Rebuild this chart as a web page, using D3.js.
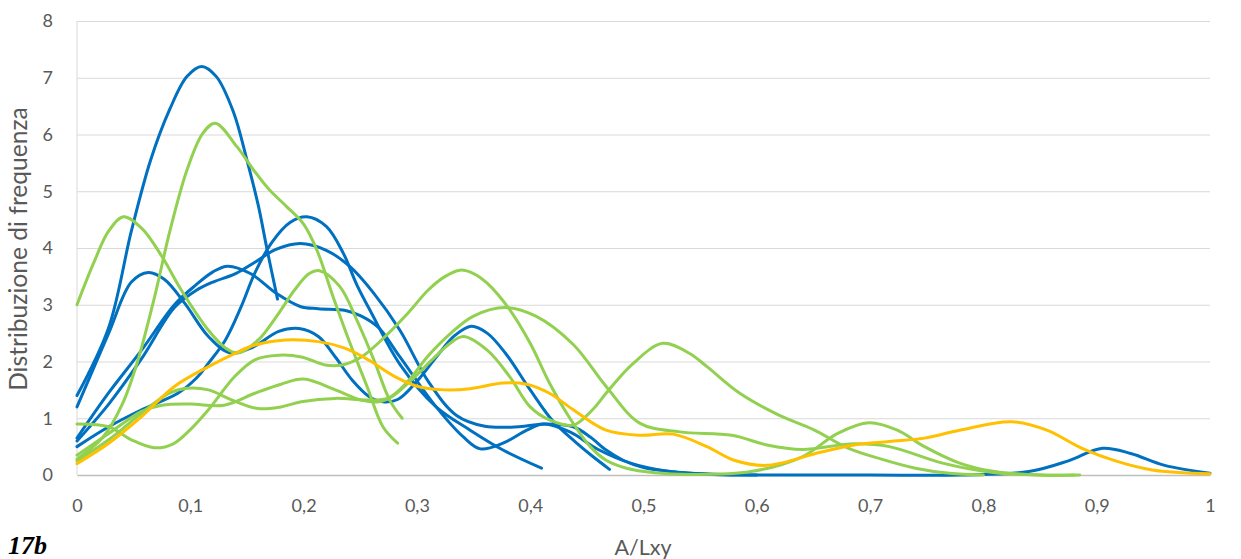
<!DOCTYPE html>
<html>
<head>
<meta charset="utf-8">
<script src="https://cdn.jsdelivr.net/npm/d3@7"></script>
<style>
  body { margin: 0; background: #fff; }
  svg { display: block; }
</style>
</head>
<body>
<div id="chart"></div>
<script>
// tick values and labels
const xTickValues = [0, 0.1, 0.2, 0.3, 0.4, 0.5, 0.6, 0.7, 0.8, 0.9, 1];
const xTickLabels = ["0", "0,1", "0,2", "0,3", "0,4", "0,5", "0,6", "0,7", "0,8", "0,9", "1"];
const yTickValues = [0, 1, 2, 3, 4, 5, 6, 7, 8];

// blue series [A/Lxy, frequency]
const blue1 = [[0,1.4],[0.028,2.6],[0.048,4.3],[0.065,5.55],[0.082,6.45],[0.097,7.02],[0.11,7.2],[0.123,7.02],[0.138,6.4],[0.15,5.55],[0.16,4.75],[0.168,3.95],[0.177,3.1]];
const blue2 = [[0,1.2],[0.028,2.5],[0.048,3.4],[0.063,3.57],[0.077,3.45],[0.095,3.03],[0.116,2.44],[0.135,2.15],[0.155,2.25],[0.178,2.53],[0.196,2.58],[0.213,2.44],[0.228,2.08],[0.243,1.67],[0.258,1.38],[0.27,1.29],[0.283,1.33],[0.3,1.65],[0.318,2.1],[0.333,2.45],[0.348,2.62],[0.362,2.5],[0.378,2.15],[0.4,1.5],[0.42,0.95],[0.44,0.58],[0.455,0.33],[0.47,0.1]];
const blue3 = [[0,0.5],[0.028,0.85],[0.057,1.15],[0.089,1.44],[0.105,1.7],[0.116,1.97],[0.131,2.38],[0.145,2.97],[0.157,3.56],[0.172,4.1],[0.188,4.45],[0.203,4.55],[0.22,4.38],[0.235,3.91],[0.247,3.35],[0.26,2.85],[0.285,1.95],[0.317,1.2],[0.347,0.79],[0.376,0.44],[0.41,0.12]];
const blue4 = [[0,0.65],[0.028,1.45],[0.057,2.2],[0.086,3.0],[0.105,3.35],[0.12,3.58],[0.133,3.68],[0.153,3.55],[0.176,3.2],[0.197,2.97],[0.213,2.93],[0.237,2.9],[0.251,2.8],[0.266,2.6],[0.285,2.08],[0.317,1.2],[0.341,0.67],[0.356,0.46],[0.376,0.56],[0.397,0.79],[0.412,0.9],[0.435,0.76],[0.46,0.45],[0.49,0.2],[0.52,0.07],[0.56,0.01],[0.6,0]];
const blue5 = [[0,0.6],[0.028,1.25],[0.057,2.05],[0.086,2.95],[0.105,3.25],[0.12,3.4],[0.14,3.55],[0.157,3.75],[0.175,3.97],[0.197,4.08],[0.22,3.96],[0.241,3.67],[0.262,3.2],[0.285,2.55],[0.31,1.65],[0.335,1.05],[0.36,0.86],[0.39,0.85],[0.414,0.9],[0.438,0.85],[0.453,0.67],[0.467,0.44],[0.482,0.26],[0.5,0.13],[0.53,0.05],[0.57,0.01],[0.62,0],[0.7,0],[0.78,0],[0.84,0.06],[0.875,0.25],[0.905,0.47],[0.93,0.38],[0.96,0.17],[1.0,0.03]];

// green series
const green1 = [[0,3.0],[0.015,3.75],[0.028,4.3],[0.041,4.55],[0.057,4.35],[0.075,3.85],[0.092,3.26],[0.116,2.55],[0.131,2.24],[0.142,2.15],[0.16,2.38],[0.178,2.85],[0.192,3.26],[0.205,3.55],[0.214,3.6],[0.232,3.32],[0.247,2.73],[0.262,2.03],[0.276,1.32],[0.287,1.0]];
const green2 = [[0,0.28],[0.023,0.67],[0.04,1.25],[0.053,1.97],[0.068,3.1],[0.082,4.3],[0.097,5.37],[0.111,6.02],[0.122,6.2],[0.141,5.79],[0.156,5.37],[0.17,5.02],[0.185,4.73],[0.2,4.42],[0.212,3.95],[0.226,3.14],[0.241,2.32],[0.256,1.56],[0.27,0.85],[0.283,0.56]];
const green3 = [[0,0.9],[0.028,0.85],[0.048,0.62],[0.068,0.48],[0.085,0.55],[0.1,0.8],[0.116,1.15],[0.139,1.73],[0.157,2.03],[0.178,2.11],[0.198,2.08],[0.219,1.94],[0.234,1.94],[0.251,2.08],[0.272,2.44],[0.292,2.85],[0.31,3.26],[0.325,3.5],[0.338,3.61],[0.35,3.55],[0.362,3.38],[0.382,2.91],[0.4,2.32],[0.417,1.62],[0.435,1.0],[0.453,0.5],[0.467,0.26],[0.485,0.12],[0.51,0.04],[0.54,0.01],[0.595,0.06],[0.64,0.32],[0.671,0.73],[0.699,0.92],[0.724,0.79],[0.748,0.5],[0.779,0.21],[0.81,0.06],[0.85,0],[0.88,0]];
const green4 = [[0,0.25],[0.028,0.62],[0.057,1.09],[0.081,1.44],[0.097,1.53],[0.116,1.5],[0.137,1.32],[0.16,1.17],[0.18,1.2],[0.198,1.29],[0.228,1.35],[0.257,1.32],[0.275,1.36],[0.292,1.65],[0.31,2.1],[0.33,2.5],[0.35,2.8],[0.378,2.95],[0.405,2.8],[0.438,2.3],[0.467,1.56],[0.497,0.91],[0.532,0.76],[0.578,0.7],[0.609,0.53],[0.64,0.45],[0.686,0.55],[0.717,0.5],[0.764,0.21],[0.81,0.04],[0.85,0],[0.885,0]];
const green5 = [[0,0.35],[0.028,0.73],[0.057,1.12],[0.075,1.23],[0.1,1.25],[0.13,1.23],[0.157,1.44],[0.18,1.6],[0.2,1.69],[0.228,1.5],[0.251,1.32],[0.266,1.29],[0.278,1.38],[0.295,1.67],[0.316,2.08],[0.328,2.3],[0.341,2.44],[0.362,2.2],[0.382,1.73],[0.4,1.2],[0.417,0.97],[0.438,0.88],[0.455,1.15],[0.467,1.44],[0.49,1.95],[0.517,2.32],[0.54,2.15],[0.556,1.91],[0.585,1.44],[0.62,1.05],[0.65,0.8],[0.68,0.48],[0.71,0.28],[0.74,0.12],[0.77,0.03],[0.8,0]];

// orange series
const orange1 = [[0,0.2],[0.028,0.56],[0.057,1.03],[0.086,1.56],[0.116,1.91],[0.139,2.14],[0.157,2.29],[0.184,2.38],[0.213,2.35],[0.237,2.23],[0.257,2.03],[0.281,1.73],[0.301,1.56],[0.325,1.5],[0.347,1.52],[0.376,1.62],[0.397,1.6],[0.417,1.44],[0.438,1.15],[0.467,0.79],[0.497,0.7],[0.526,0.72],[0.556,0.5],[0.58,0.26],[0.609,0.17],[0.656,0.4],[0.686,0.53],[0.717,0.59],[0.748,0.65],[0.779,0.79],[0.825,0.94],[0.856,0.79],[0.887,0.47],[0.918,0.24],[0.949,0.09],[1.0,0.02]];

const BLUE = "#0070C0", GREEN = "#92D050", ORANGE = "#FFC000";
const series = [
  { data: blue1, color: BLUE }, { data: blue2, color: BLUE }, { data: blue3, color: BLUE },
  { data: blue4, color: BLUE }, { data: blue5, color: BLUE },
  { data: green1, color: GREEN }, { data: green2, color: GREEN }, { data: green3, color: GREEN },
  { data: green4, color: GREEN }, { data: green5, color: GREEN },
  { data: orange1, color: ORANGE }
];

const FONT = "Lato, 'Open Sans', sans-serif";

// shrink or grow a text so that it spans about `target` px
function fitText(sel, target) {
  const len = sel.node().getComputedTextLength();
  const size = parseFloat(sel.style("font-size"));
  sel.style("font-size", (size * target / len).toFixed(1) + "px");
}

function drawChart() {
  const width = 1241, height = 559;
  const margin = { top: 21, right: 31, bottom: 84, left: 77 };
  const innerWidth = width - margin.left - margin.right;
  const innerHeight = height - margin.top - margin.bottom;

  const svg = d3.select("#chart").append("svg")
    .attr("width", width)
    .attr("height", height);

  const g = svg.append("g")
    .attr("transform", `translate(${margin.left},${margin.top})`);

  const x = d3.scaleLinear().domain([0, 1]).range([0, innerWidth]);
  const y = d3.scaleLinear().domain([0, 8]).range([innerHeight, 0]);

  // horizontal gridlines
  g.append("g")
    .call(d3.axisLeft(y).tickValues(yTickValues.filter(d => d > 0)).tickSize(-innerWidth).tickFormat(""))
    .call(a => a.select(".domain").remove())
    .selectAll("line")
    .attr("stroke", "#d9d9d9")
    .attr("stroke-width", 1);

  // left axis line
  g.append("line")
    .attr("x1", 0).attr("x2", 0)
    .attr("y1", 0).attr("y2", innerHeight)
    .attr("stroke", "#d9d9d9");

  // y labels
  g.append("g")
    .call(d3.axisLeft(y).tickValues(yTickValues).tickSize(0).tickPadding(24))
    .call(a => a.select(".domain").remove())
    .selectAll("text")
    .style("font-family", FONT)
    .style("font-size", "18px")
    .attr("fill", "#595959");

  // x axis
  const xAxis = g.append("g")
    .attr("transform", `translate(0,${innerHeight})`)
    .call(d3.axisBottom(x).tickValues(xTickValues).tickSize(0).tickPadding(24)
      .tickFormat((d, i) => xTickLabels[i]));
  xAxis.select(".domain").attr("stroke", "#bfbfbf").attr("stroke-width", 1.5);
  xAxis.selectAll("text")
    .style("font-family", FONT)
    .style("font-size", "18px")
    .attr("fill", "#595959");

  const line = d3.line()
    .x(d => x(d[0]))
    .y(d => y(d[1]))
    .curve(d3.curveCatmullRom.alpha(0.5));

  series.forEach(s => {
    g.append("path")
      .datum(s.data)
      .attr("fill", "none")
      .attr("stroke", s.color)
      .attr("stroke-width", 3)
      .attr("stroke-linecap", "round")
      .attr("stroke-linejoin", "round")
      .attr("d", line);
  });

  // axis titles
  const xTitle = svg.append("text")
    .attr("text-anchor", "middle")
    .attr("x", 643)
    .attr("y", 555)
    .style("font-family", FONT)
    .style("font-size", "20px")
    .attr("fill", "#595959")
    .text("A/Lxy");
  fitText(xTitle, 57);

  const yTitle = svg.append("text")
    .attr("text-anchor", "middle")
    .attr("transform", "translate(27,249) rotate(-90)")
    .style("font-family", FONT)
    .style("font-size", "20px")
    .attr("fill", "#595959")
    .text("Distribuzione di frequenza");
  fitText(yTitle, 284);

  svg.append("text")
    .attr("x", 8)
    .attr("y", 554)
    .style("font-family", "'Liberation Serif', 'DejaVu Serif', serif")
    .style("font-size", "26px")
    .style("font-weight", "bold")
    .style("font-style", "italic")
    .attr("fill", "#000")
    .text("17b");
}

drawChart();
</script>
</body>
</html>
